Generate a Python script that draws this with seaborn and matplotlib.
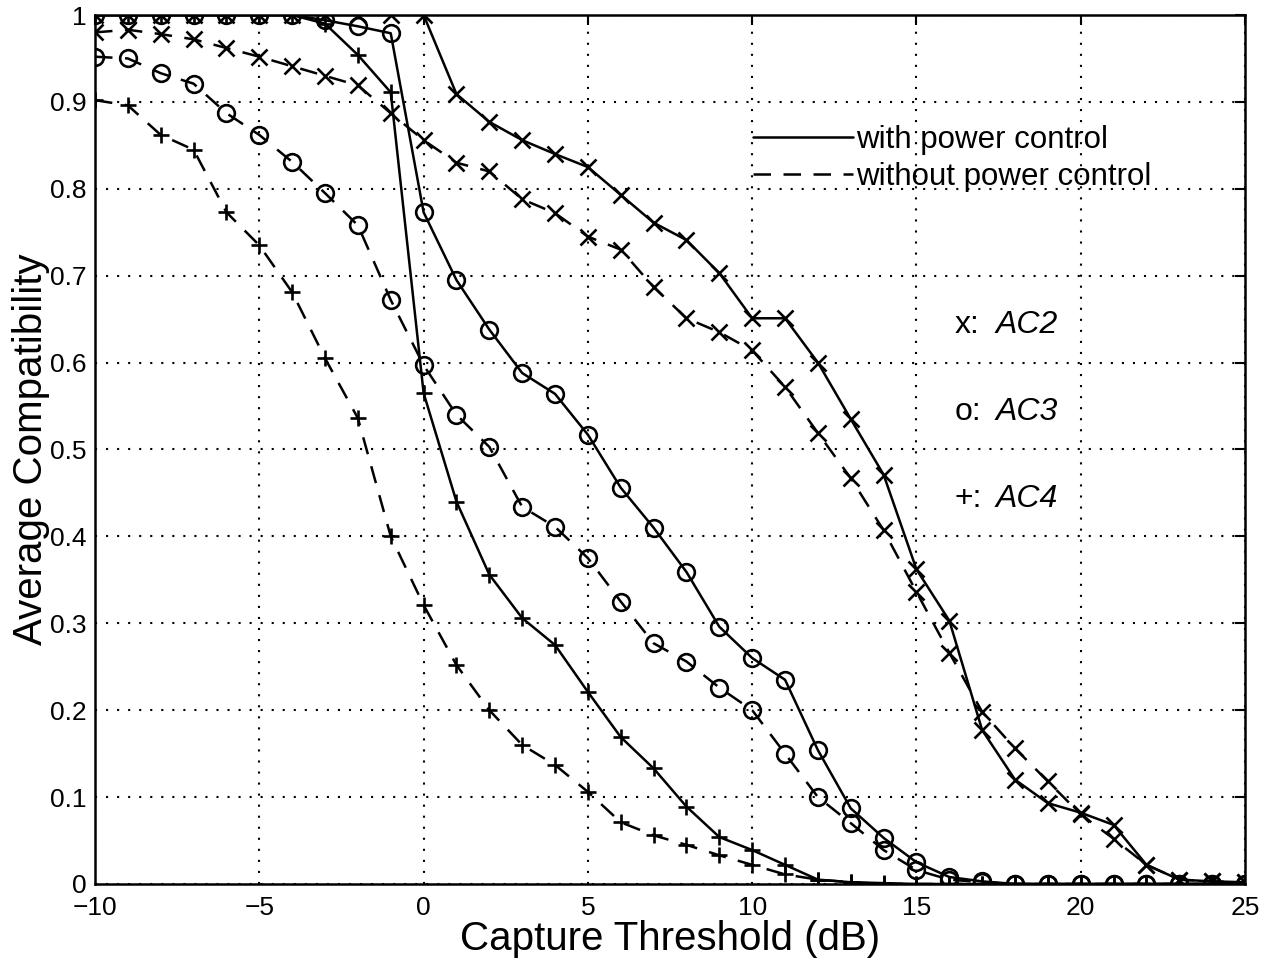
import numpy as np
import pandas as pd
import seaborn as sns
import matplotlib.pyplot as plt
from matplotlib.lines import Line2D

threshold = list(range(-10, 26))

ac2_pc = [1.0, 1.0, 1.0, 1.0, 1.0, 1.0, 1.0, 1.0, 1.0, 1.0, 1.0,
          0.909, 0.877, 0.856, 0.840, 0.825, 0.793, 0.761, 0.741, 0.703, 0.651,
          0.651, 0.600, 0.535, 0.471, 0.362, 0.303, 0.177, 0.120, 0.093, 0.082,
          0.068, 0.022, 0.005, 0.003, 0.002]
ac2_nopc = [0.980, 0.983, 0.978, 0.972, 0.962, 0.952, 0.941, 0.930, 0.919, 0.887, 0.856,
            0.830, 0.820, 0.788, 0.772, 0.745, 0.730, 0.687, 0.651, 0.635, 0.614,
            0.572, 0.519, 0.467, 0.407, 0.336, 0.266, 0.198, 0.156, 0.118, 0.080,
            0.052, 0.022, 0.005, 0.003, 0.002]
ac3_pc = [1.0, 1.0, 1.0, 1.0, 1.0, 1.0, 1.0, 0.994, 0.987, 0.979, 0.773,
          0.695, 0.638, 0.588, 0.564, 0.517, 0.456, 0.410, 0.359, 0.296, 0.260,
          0.235, 0.154, 0.087, 0.053, 0.025, 0.008, 0.003, 0.0, 0.0, 0.0,
          0.0, 0.0, 0.0, 0.0, 0.0]
ac3_nopc = [0.952, 0.950, 0.933, 0.921, 0.887, 0.862, 0.831, 0.795, 0.758, 0.672, 0.597,
            0.540, 0.503, 0.434, 0.411, 0.375, 0.325, 0.277, 0.256, 0.226, 0.200,
            0.150, 0.100, 0.070, 0.039, 0.016, 0.005, 0.002, 0.0, 0.0, 0.0,
            0.0, 0.0, 0.0, 0.0, 0.0]
ac4_pc = [1.0, 1.0, 1.0, 1.0, 1.0, 1.0, 1.0, 0.990, 0.954, 0.911, 0.565,
          0.440, 0.356, 0.306, 0.275, 0.221, 0.169, 0.133, 0.089, 0.054, 0.039,
          0.022, 0.005, 0.002, 0.001, 0.0, 0.0, 0.0, 0.0, 0.0, 0.0,
          0.0, 0.0, 0.0, 0.0, 0.0]
ac4_nopc = [0.902, 0.896, 0.862, 0.845, 0.773, 0.735, 0.681, 0.605, 0.536, 0.400, 0.321,
            0.252, 0.200, 0.160, 0.137, 0.106, 0.071, 0.056, 0.045, 0.033, 0.022,
            0.011, 0.005, 0.002, 0.0, 0.0, 0.0, 0.0, 0.0, 0.0, 0.0,
            0.0, 0.0, 0.0, 0.0, 0.0]

series = [
    ("AC2", "with", ac2_pc, "x"),
    ("AC2", "without", ac2_nopc, "x"),
    ("AC3", "with", ac3_pc, "o"),
    ("AC3", "without", ac3_nopc, "o"),
    ("AC4", "with", ac4_pc, "+"),
    ("AC4", "without", ac4_nopc, "+"),
]

sns.set_style("white")
plt.rcParams['font.family'] = ['Liberation Sans', 'DejaVu Sans']
for k in ['text.color', 'axes.labelcolor', 'xtick.color', 'ytick.color']:
    plt.rcParams[k] = 'black'

dashed = (0, (7, 5))

fig = plt.figure(figsize=(12.77, 9.68), dpi=100)
ax = fig.add_axes([0.0744, 0.0868, 0.9006, 0.8977])

for ac, pc, vals, mk in series:
    df = pd.DataFrame({"threshold": threshold, "compat": vals})
    ls = "-" if pc == "with" else dashed
    sns.lineplot(data=df, x="threshold", y="compat", ax=ax, color="black",
                 linestyle=ls, linewidth=1.8, marker=mk, markersize=12,
                 markerfacecolor="none", markeredgecolor="black",
                 markeredgewidth=1.9, legend=False)

ax.set_xlim(-10, 25)
ax.set_ylim(0, 1)
ax.set_xticks(np.arange(-10, 26, 5))
ax.set_yticks(np.arange(0, 1.01, 0.1))
ax.set_yticklabels(["0", "0.1", "0.2", "0.3", "0.4", "0.5", "0.6", "0.7", "0.8", "0.9", "1"])
ax.grid(True, linestyle=(0, (1, 4.3)), color="black", linewidth=1.5)
ax.tick_params(direction="in", length=7, width=1.5, top=True, right=True,
               labelsize=19, pad=6)
ax.tick_params(axis="x", pad=9)
for s in ax.spines.values():
    s.set_color("black")
    s.set_linewidth(1.8)

ax.set_xlabel("Capture Threshold (dB)", fontsize=29, labelpad=0)
ax.set_ylabel("Average Compatibility", fontsize=29, labelpad=0)

handles = [Line2D([0], [0], color="black", linewidth=1.8, linestyle="-"),
           Line2D([0], [0], color="black", linewidth=1.8, linestyle=dashed)]
ax.legend(handles, ["with power control", "without power control"],
          loc="upper left", bbox_to_anchor=(0.572, 0.873), frameon=False,
          fontsize=22.5, handlelength=3.2, handletextpad=0.1, borderpad=0,
          labelspacing=0.2, borderaxespad=0)

for lab, name, yv in [("x:", "AC2", 0.643), ("o:", "AC3", 0.543), ("+:", "AC4", 0.443)]:
    ax.text(16.15, yv, lab, fontsize=23, va="center", ha="left")
    ax.text(17.4, yv, name, fontsize=23, va="center", ha="left", style="italic")

fig.savefig("out.png", dpi=100)
